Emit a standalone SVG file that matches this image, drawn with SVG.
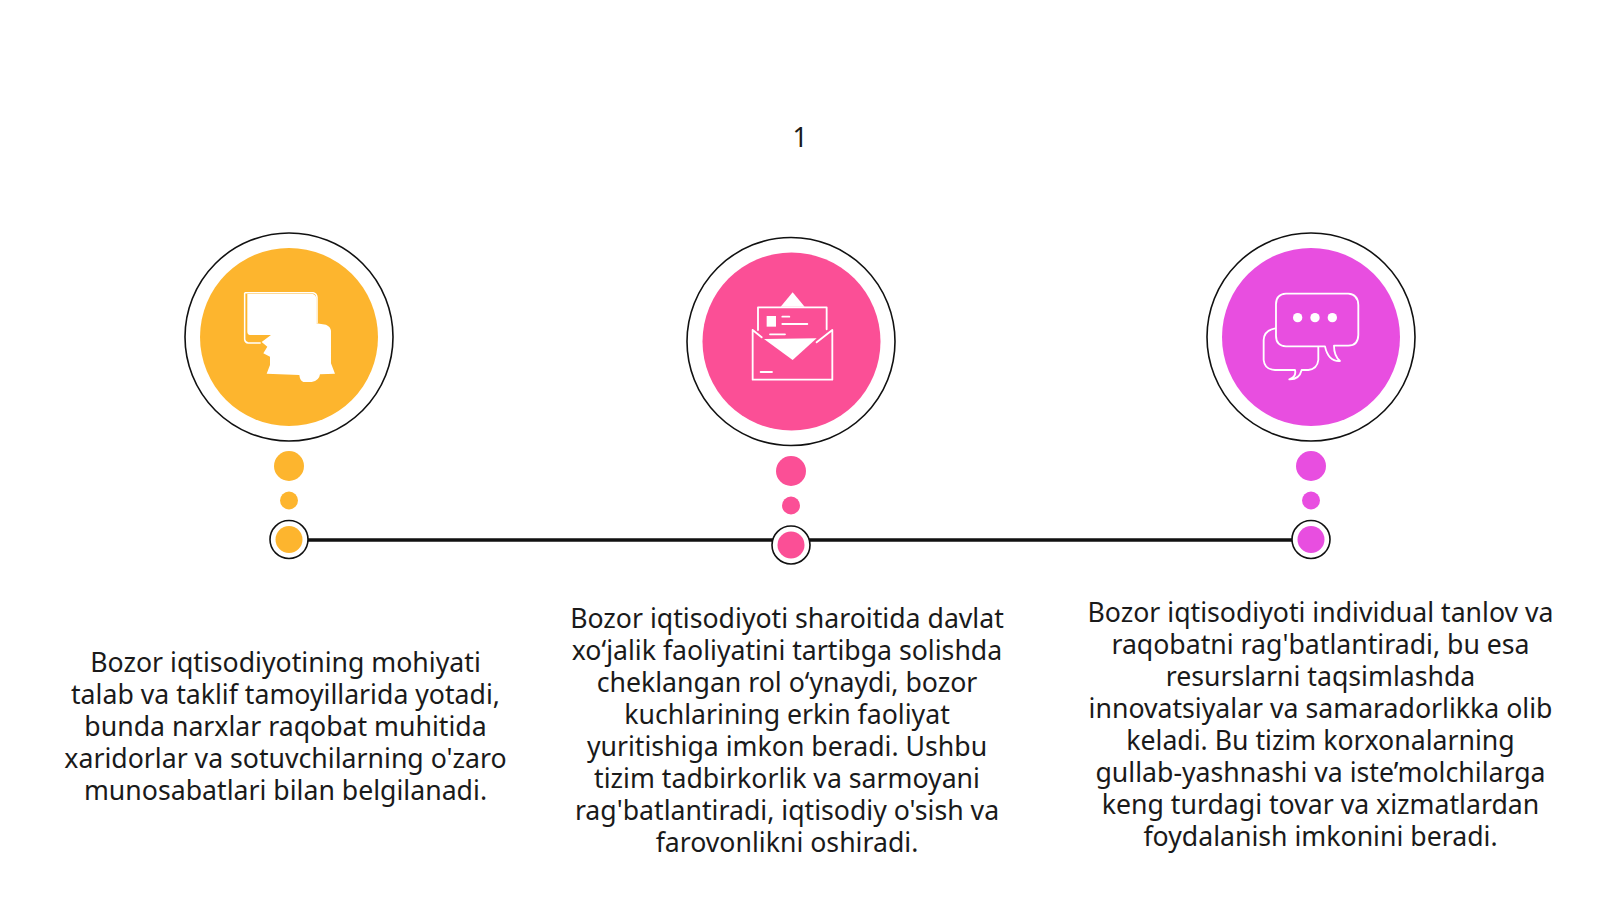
<svg xmlns="http://www.w3.org/2000/svg" width="1600" height="900" viewBox="0 0 1600 900">
<style>
.ring{fill:#fff;stroke:#111;stroke-width:1.600}
.t{font-family:"Noto Sans","Open Sans",sans-serif;font-size:26.67px;fill:#1a1a1a;text-anchor:middle}
.ic{fill:none;stroke:#fff;stroke-width:5.500;stroke-linejoin:round;stroke-linecap:round}
.w{fill:#fff}
.o{fill:#fdb52e}.p{fill:#fb4f96}.m{fill:#e84ee0}
</style>
<rect width="1600" height="900" fill="#fff"/>
<text id="page-number" class="t" x="800" y="147">1</text>
<g id="connectors"><path d="M308 540H1292" stroke="#111" stroke-width="3.500" fill="none"/></g>
<g id="node-1">
<circle class="ring" cx="289" cy="337" r="104"/><circle class="o" cx="289" cy="337" r="89"/>
<g transform="translate(170,220) scale(.3333)">
<path class="w" d="M232 222H428Q438 224 439 236V310L468 314Q482 320 483 332V430L495 461L450 463Q448 482 425 486H400Q390 482 388 465L290 461L300 435V410L280 400L292 380L275 366L303 345L240 345Q232 344 232 335Z"/>
<path d="M224 218H430Q440 220 441 232V310M224 218V358Q225 368 235 369H272" fill="none" stroke="#fff" stroke-width="4.500"/>
</g>
<circle class="o" cx="289" cy="466" r="15"/><circle class="o" cx="289" cy="500.500" r="9"/>
<circle class="ring" cx="289" cy="539.500" r="19"/><circle class="o" cx="289" cy="539.500" r="13.500"/>
</g>
<g id="node-2">
<circle class="ring" cx="791" cy="341.500" r="104"/><circle class="p" cx="791.500" cy="341.500" r="89"/>
<g transform="translate(670,230) scale(.3333)">
<path class="w" d="M368 187L404 230H332Z"/>
<path class="ic" d="M264 300V232H470V298M300 313H345M337 260H358M337 282H412"/>
<rect class="w" x="290" y="258" width="28" height="32"/>
<path class="ic" d="M248 300V449H487V300L440 337M248 300L275 322M272 426H306"/>
<path class="w" d="M282 327L440 325L368 390Z"/>
</g>
<circle class="p" cx="791" cy="471" r="15"/><circle class="p" cx="791" cy="505.500" r="9"/>
<circle class="ring" cx="791" cy="545" r="19"/><circle class="p" cx="791" cy="545" r="13.500"/>
</g>
<g id="node-3">
<circle class="ring" cx="1311" cy="337" r="104"/><circle class="m" cx="1311" cy="337" r="89"/>
<g transform="translate(1180,225) scale(.3333)">
<path class="ic" d="M318 206H505Q534 208 535 240V330Q534 362 505 362H462Q462 392 480 408Q445 410 435 364H318Q288 362 288 332V238Q288 208 318 206Z"/>
<path class="ic" d="M286 310Q252 316 251 345V405Q254 434 285 435H345Q350 455 328 463Q358 464 365 435H385Q412 432 415 405V366"/>
<circle class="w" cx="353" cy="278" r="14"/><circle class="w" cx="405" cy="278" r="14"/><circle class="w" cx="457" cy="278" r="14"/>
</g>
<circle class="m" cx="1311" cy="466" r="15"/><circle class="m" cx="1311" cy="500.500" r="9"/>
<circle class="ring" cx="1311" cy="539.500" r="19"/><circle class="m" cx="1311" cy="539.500" r="13.500"/>
</g>
<g id="text-1">
<text class="t" x="285.500" y="671.700">Bozor iqtisodiyotining mohiyati</text>
<text class="t" x="285.500" y="703.700">talab va taklif tamoyillarida yotadi,</text>
<text class="t" x="285.500" y="735.700">bunda narxlar raqobat muhitida</text>
<text class="t" x="285.500" y="767.700">xaridorlar va sotuvchilarning o'zaro</text>
<text class="t" x="285.500" y="799.700">munosabatlari bilan belgilanadi.</text>
</g>
<g id="text-2">
<text class="t" x="787" y="628.400">Bozor iqtisodiyoti sharoitida davlat</text>
<text class="t" x="787" y="660.400">xo‘jalik faoliyatini tartibga solishda</text>
<text class="t" x="787" y="692.400">cheklangan rol o‘ynaydi, bozor</text>
<text class="t" x="787" y="724.400">kuchlarining erkin faoliyat</text>
<text class="t" x="787" y="756.400">yuritishiga imkon beradi. Ushbu</text>
<text class="t" x="787" y="788.400">tizim tadbirkorlik va sarmoyani</text>
<text class="t" x="787" y="820.400">rag'batlantiradi, iqtisodiy o'sish va</text>
<text class="t" x="787" y="852.400">farovonlikni oshiradi.</text>
</g>
<g id="text-3">
<text class="t" x="1320.500" y="622">Bozor iqtisodiyoti individual tanlov va</text>
<text class="t" x="1320.500" y="654">raqobatni rag'batlantiradi, bu esa</text>
<text class="t" x="1320.500" y="686">resurslarni taqsimlashda</text>
<text class="t" x="1320.500" y="718">innovatsiyalar va samaradorlikka olib</text>
<text class="t" x="1320.500" y="750">keladi. Bu tizim korxonalarning</text>
<text class="t" x="1320.500" y="782">gullab-yashnashi va iste’molchilarga</text>
<text class="t" x="1320.500" y="814">keng turdagi tovar va xizmatlardan</text>
<text class="t" x="1320.500" y="846">foydalanish imkonini beradi.</text>
</g>
</svg>
